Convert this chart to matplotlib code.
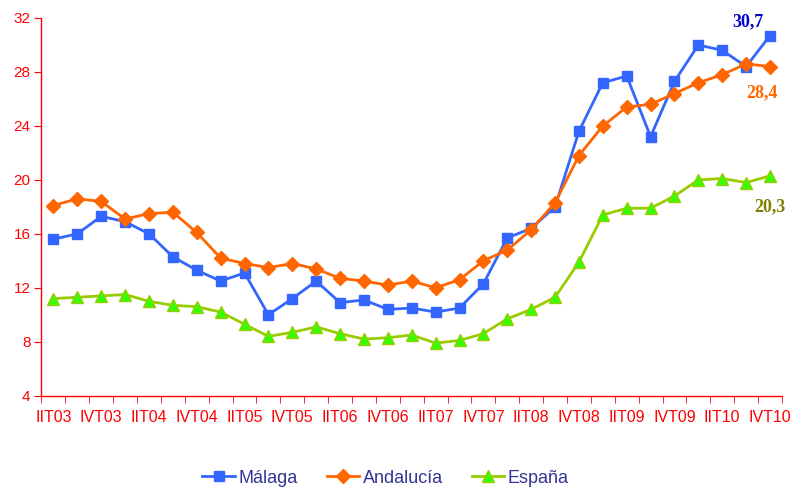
import numpy as np
import matplotlib
matplotlib.use("Agg")
import matplotlib.pyplot as plt

# trimestres IIT03 .. IVT10
trimestres = [f"{r}T{a:02d}" for a in range(3, 11) for r in ["I", "II", "III", "IV"]][1:]
etiquetas = trimestres[::2]

malaga = [15.6, 16.0, 17.3, 16.9, 16.0, 14.3, 13.3, 12.5, 13.1, 10.0, 11.2, 12.5, 10.9, 11.1, 10.4,
          10.5, 10.2, 10.5, 12.3, 15.7, 16.4, 18.0, 23.6, 27.2, 27.7, 23.2, 27.3, 30.0, 29.6, 28.4, 30.7]
andalucia = [18.1, 18.6, 18.4, 17.1, 17.5, 17.6, 16.1, 14.2, 13.8, 13.5, 13.8, 13.4, 12.7, 12.5, 12.2,
             12.5, 12.0, 12.6, 14.0, 14.8, 16.3, 18.3, 21.8, 24.0, 25.4, 25.6, 26.4, 27.2, 27.8, 28.6, 28.4]
espana = [11.2, 11.3, 11.4, 11.5, 11.0, 10.7, 10.6, 10.2, 9.3, 8.4, 8.7, 9.1, 8.6, 8.2, 8.3,
          8.5, 7.9, 8.1, 8.6, 9.7, 10.4, 11.3, 13.9, 17.4, 17.9, 17.9, 18.8, 20.0, 20.1, 19.8, 20.3]

plt.rcParams["font.family"] = ["Liberation Sans", "DejaVu Sans"]
rojo = "#FF0000"

fig = plt.figure(figsize=(7.95, 4.9), dpi=100)
ax = fig.add_axes([0.0522, 0.1924, 0.9314, 0.7709])

x = np.arange(len(trimestres))
ax.plot(x, malaga, color="#3366FF", lw=2, marker="s", ms=7, label="Málaga")
ax.plot(x, andalucia, color="#FF6600", lw=2, marker="D", ms=7, label="Andalucía")
ax.plot(x, espana, color="#99CC00", lw=2, marker="^", ms=8, mfc="#33FF00", mec="#99CC00",
        label="España")

ax.set_xlim(-0.5, len(trimestres) - 0.5)
ax.set_ylim(4, 32)
ax.set_yticks(range(4, 33, 4))
ax.set_xticks(x[::2])
ax.set_xticklabels(etiquetas)
ax.set_xticks(np.arange(-0.5, len(trimestres), 1), minor=True)
ax.tick_params(axis="x", which="major", length=0, pad=10, labelsize=11.5, labelcolor=rojo)
ax.tick_params(axis="x", which="minor", length=5, color=rojo, direction="out")
ax.tick_params(axis="y", length=5, color=rojo, labelsize=11, labelcolor=rojo, pad=3)

for s in ["top", "right"]:
    ax.spines[s].set_visible(False)
for s in ["left", "bottom"]:
    ax.spines[s].set_color(rojo)
    ax.spines[s].set_linewidth(1)

# valores finales
fuente = dict(family=["Liberation Serif", "DejaVu Serif"], fontsize=13, fontweight="bold",
              ha="center", va="center")
ax.annotate(f"{malaga[-1]:.1f}".replace(".", ","), (x[-1], malaga[-1]), xytext=(-16, 10),
            textcoords="offset points", color="#0000CC", **fuente)
ax.annotate(f"{andalucia[-1]:.1f}".replace(".", ","), (x[-1], andalucia[-1]), xytext=(-6, -18.5),
            textcoords="offset points", color="#FF6600", **fuente)
ax.annotate(f"{espana[-1]:.1f}".replace(".", ","), (x[-1], espana[-1]), xytext=(0, -22),
            textcoords="offset points", color="#808000", **fuente)

leg = fig.legend(loc="center", bbox_to_anchor=(0.485, 1 - 478 / 490), ncol=3, frameon=False,
                 fontsize=13, handlelength=1.8, columnspacing=1.6, handletextpad=0.2)
for t in leg.get_texts():
    t.set_color("#333399")

fig.savefig("out.png", dpi=100)
